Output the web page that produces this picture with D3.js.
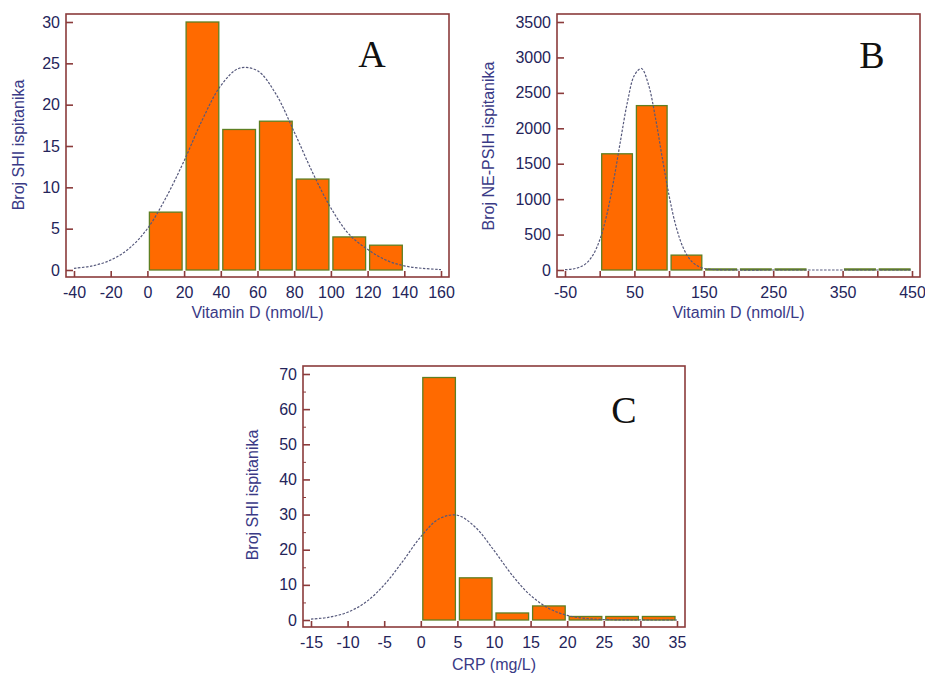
<!DOCTYPE html>
<html>
<head>
<meta charset="utf-8">
<script src="https://cdn.jsdelivr.net/npm/d3@7"></script>
<style>
  body { margin: 0; background: #fff; }
  text { font-family: "Liberation Sans", Arial, sans-serif; }
</style>
</head>
<body>
<script>
// ---- data ----
// panel A: Vitamin D, SHI group
var edgesA = [0, 20, 40, 60, 80, 100, 120, 140];
var countsA = [7, 30, 17, 18, 11, 4, 3];
var curveXA = [-40, -30, -20, -10, 0, 10, 20, 30, 40, 50, 60, 70, 80, 90, 100, 110, 120, 130, 140, 150, 160];
var curveYA = [0.2, 0.5, 1.2, 2.6, 5.0, 8.7, 13.2, 18.2, 22.3, 24.4, 24.1, 21.3, 16.7, 11.8, 7.5, 4.3, 2.5, 1.2, 0.5, 0.2, 0.05];
var ticksXA = [-40, -20, 0, 20, 40, 60, 80, 100, 120, 140, 160];
var ticksYA = [0, 5, 10, 15, 20, 25, 30];

// panel B: Vitamin D, NE-PSIH group
var edgesB = [0, 50, 100, 150, 200, 250, 300, 350, 400, 450];
var countsB = [1640, 2320, 210, 15, 15, 15, 0, 15, 15];
var curveXB = [-50, -40, -30, -20, -10, 0, 10, 20, 30, 40, 50, 60, 70, 80, 90, 100, 110, 120, 130, 140, 150, 160, 200, 250, 300, 350, 400, 450];
var curveYB = [4, 12, 35, 90, 206, 423, 770, 1255, 1826, 2371, 2748, 2844, 2626, 2165, 1593, 1048, 614, 321, 150, 62, 23, 8, 0, 0, 0, 0, 0, 0];
var ticksXB = [-50, 0, 50, 100, 150, 200, 250, 300, 350, 400, 450];
var labelsXB = [-50, 50, 150, 250, 350, 450];
var ticksYB = [0, 500, 1000, 1500, 2000, 2500, 3000, 3500];

// panel C: CRP, SHI group
var edgesC = [0, 5, 10, 15, 20, 25, 30, 35];
var countsC = [69, 12, 2, 4, 1, 1, 1];
var curveXC = [-15, -12.5, -10, -7.5, -5, -2.5, 0, 2.5, 5, 7.5, 10, 12.5, 15, 17.5, 20, 22.5, 25, 27.5, 30, 32.5, 35];
var curveYC = [0.26, 0.8, 2.2, 5.1, 10.0, 16.6, 23.7, 28.8, 29.8, 26.3, 19.8, 12.7, 7.0, 3.3, 1.3, 0.45, 0.13, 0.04, 0.01, 0, 0];
var ticksXC = [-15, -10, -5, 0, 5, 10, 15, 20, 25, 30, 35];
var ticksYC = [0, 10, 20, 30, 40, 50, 60, 70];
var minorYC = [5, 15, 25, 35, 45, 55, 65];

var frameColor = "#8b3b3b";
var labelColor = "#24245a";
var titleColor = "#3a3a86";

var svg = d3.select("body").append("svg")
  .attr("width", 925)
  .attr("height", 673);

function drawPanel(p) {
  var x = d3.scaleLinear().domain(p.xDomain).range(p.xRange);
  var y = d3.scaleLinear().domain(p.yDomain).range(p.yRange);
  var g = svg.append("g");
  var pad = 8;

  var bins = p.counts.map(function (c, i) {
    return {x0: p.edges[i], x1: p.edges[i + 1], v: c};
  });

  g.selectAll(".bar")
    .data(bins.filter(function (d) { return d.v > 0; }))
    .enter().append("rect")
    .attr("class", "bar")
    .attr("x", function (d) { return x(d.x0) + 2; })
    .attr("width", function (d) { return x(d.x1) - x(d.x0) - 4; })
    .attr("y", function (d) { return y(d.v); })
    .attr("height", function (d) { return Math.max(y(0) - y(d.v), 0.5); })
    .attr("fill", "#ff6a00")
    .attr("stroke", "#5e7f22")
    .attr("stroke-width", 1.3);

  var line = d3.line()
    .x(function (d) { return x(d[0]); })
    .y(function (d) { return y(d[1]); })
    .curve(d3.curveCatmullRom.alpha(0.5));

  g.append("path")
    .datum(p.curveX.map(function (v, i) { return [v, p.curveY[i]]; }))
    .attr("d", line)
    .attr("fill", "none")
    .attr("stroke", "#56597c")
    .attr("stroke-width", 1.2)
    .attr("stroke-dasharray", "2.5,1.5");

  var bottom = y.range()[0] + pad - 1;
  var left = x.range()[0] - pad;

  var xAxis = d3.axisBottom(x)
    .tickValues(p.ticksX)
    .tickSize(-6)
    .tickPadding(10)
    .tickFormat(function (d) {
      if (p.labelsX && p.labelsX.indexOf(d) < 0) return "";
      return d;
    });
  var gx = g.append("g")
    .attr("transform", "translate(0," + bottom + ")")
    .call(xAxis);

  var yAxis = d3.axisLeft(y)
    .tickValues(p.ticksY)
    .tickSize(-7)
    .tickPadding(6)
    .tickFormat(d3.format("d"));
  var gy = g.append("g")
    .attr("transform", "translate(" + left + ",0)")
    .call(yAxis);

  if (p.minorY) {
    g.append("g")
      .attr("transform", "translate(" + left + ",0)")
      .call(d3.axisLeft(y).tickValues(p.minorY).tickSize(-3).tickFormat(""))
      .call(function (s) { s.select(".domain").remove(); })
      .selectAll("line").attr("stroke", frameColor).attr("stroke-width", 1);
  }

  [gx, gy].forEach(function (a) {
    a.select(".domain").remove();
    a.selectAll("line").attr("stroke", frameColor).attr("stroke-width", 1.6);
    a.selectAll("text")
      .attr("fill", labelColor)
      .style("font-size", "16px");
  });

  g.append("rect")
    .attr("x", left)
    .attr("y", y.range()[1] - pad)
    .attr("width", x.range()[1] + pad - left)
    .attr("height", bottom - (y.range()[1] - pad))
    .attr("fill", "none")
    .attr("stroke", frameColor)
    .attr("stroke-width", 1.6);

  g.append("text")
    .attr("x", (x.range()[0] + x.range()[1]) / 2)
    .attr("y", p.xTitleY)
    .attr("text-anchor", "middle")
    .attr("fill", titleColor)
    .style("font-size", "16px")
    .text(p.xTitle);

  g.append("text")
    .attr("transform", "translate(" + p.yTitleX + "," + p.yTitleMid + ") rotate(-90)")
    .attr("text-anchor", "middle")
    .attr("dy", "0.35em")
    .attr("fill", titleColor)
    .style("font-size", "16px")
    .text(p.yTitle);

  g.append("text")
    .attr("x", p.letterPos[0])
    .attr("y", p.letterPos[1])
    .attr("text-anchor", "middle")
    .attr("fill", "#111")
    .style("font-family", "'Liberation Serif', 'Times New Roman', serif")
    .style("font-size", "38px")
    .text(p.letter);
}

drawPanel({
  edges: edgesA, counts: countsA, curveX: curveXA, curveY: curveYA,
  ticksX: ticksXA, ticksY: ticksYA,
  xDomain: [-40, 160], yDomain: [0, 30],
  xRange: [74, 441], yRange: [270, 22],
  xTitle: "Vitamin D (nmol/L)", xTitleY: 318,
  yTitle: "Broj SHI ispitanika", yTitleX: 18, yTitleMid: 145,
  letter: "A", letterPos: [372, 67]
});

drawPanel({
  edges: edgesB, counts: countsB, curveX: curveXB, curveY: curveYB,
  ticksX: ticksXB, labelsX: labelsXB, ticksY: ticksYB,
  xDomain: [-50, 450], yDomain: [0, 3500],
  xRange: [565, 912], yRange: [270, 22],
  xTitle: "Vitamin D (nmol/L)", xTitleY: 318,
  yTitle: "Broj NE-PSIH ispitanika", yTitleX: 488, yTitleMid: 146,
  letter: "B", letterPos: [872, 68]
});

drawPanel({
  edges: edgesC, counts: countsC, curveX: curveXC, curveY: curveYC,
  ticksX: ticksXC, ticksY: ticksYC, minorY: minorYC,
  xDomain: [-15, 35], yDomain: [0, 70],
  xRange: [311, 677], yRange: [620, 374],
  xTitle: "CRP (mg/L)", xTitleY: 670,
  yTitle: "Broj SHI ispitanika", yTitleX: 252, yTitleMid: 495,
  letter: "C", letterPos: [624, 423]
});
</script>
</body>
</html>
